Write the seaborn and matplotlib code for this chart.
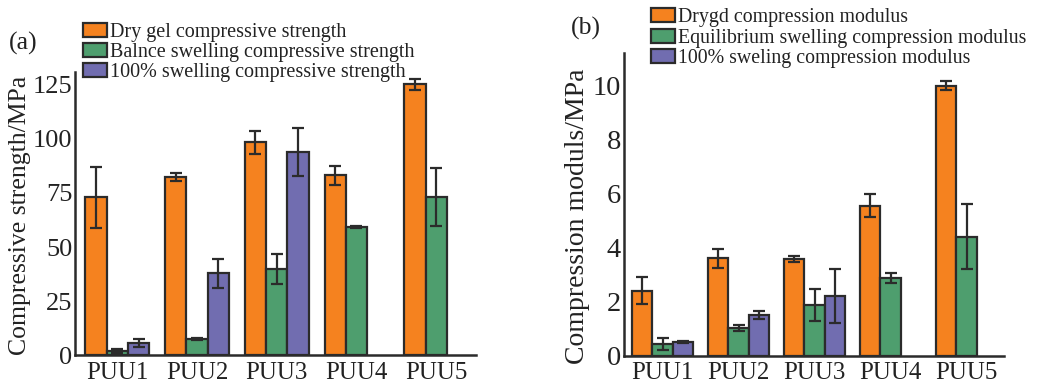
import numpy as np
import pandas as pd
import matplotlib
matplotlib.use("Agg")
import matplotlib.pyplot as plt
from matplotlib.ticker import MultipleLocator, FixedLocator
from matplotlib.patches import Patch
import seaborn as sns

samples = ["PUU1", "PUU2", "PUU3", "PUU4", "PUU5"]

# (a) compressive strength, MPa
strength_labels = ["Dry gel compressive strength",
                   "Balnce swelling compressive strength",
                   "100% swelling compressive strength"]
strength_dry = [73.0, 82.3, 98.5, 83.3, 125.3]
strength_dry_err = [14.0, 1.8, 5.3, 4.4, 2.5]
strength_bal = [1.9, 7.4, 39.8, 59.3, 73.3]
strength_bal_err = [0.8, 0.6, 7.0, 0.6, 13.5]
strength_full = [5.7, 37.8, 94.0, np.nan, np.nan]
strength_full_err = [1.8, 6.7, 10.9, np.nan, np.nan]

# (b) compression modulus, MPa
modulus_labels = ["Drygd compression modulus",
                  "Equilibrium swelling compression modulus",
                  "100% sweling compression modulus"]
modulus_dry = [2.4, 3.6, 3.57, 5.54, 9.98]
modulus_dry_err = [0.5, 0.36, 0.12, 0.43, 0.17]
modulus_eq = [0.42, 1.02, 1.87, 2.87, 4.4]
modulus_eq_err = [0.22, 0.12, 0.6, 0.18, 1.2]
modulus_full = [0.5, 1.5, 2.2, np.nan, np.nan]
modulus_full_err = [0.05, 0.15, 1.0, np.nan, np.nan]

colors = ["#F5821F", "#4E9E6E", "#716DB0"]
edge = "#2b2b2b"
ink = "#222222"

sns.set_theme(style="white")
plt.rcParams["font.family"] = ["Liberation Serif", "DejaVu Serif"]


def build(labels, series):
    rows = []
    for lab, vals in zip(labels, series):
        for s, v in zip(samples, vals):
            rows.append({"sample": s, "group": lab, "value": v})
    return pd.DataFrame(rows)


def draw(ax, labels, series, errs, ysize):
    df = build(labels, series)
    sns.barplot(data=df, x="sample", y="value", hue="group", order=samples,
                hue_order=labels, palette=colors, saturation=1,
                errorbar=None, width=0.8, edgecolor=edge, linewidth=1.6,
                ax=ax, zorder=2)
    for cont, vals, ee in zip(ax.containers, series, errs):
        for patch, v, e in zip(cont.patches, vals, ee):
            if np.isnan(v):
                continue
            xc = patch.get_x() + patch.get_width() / 2
            ax.errorbar(xc, v, yerr=e, fmt="none", ecolor=edge,
                        elinewidth=1.6, capsize=4.5, capthick=1.6, zorder=3)
    for side in ["top", "right"]:
        ax.spines[side].set_visible(False)
    for side in ["left", "bottom"]:
        ax.spines[side].set_color(edge)
        ax.spines[side].set_linewidth(1.8)
    ax.set_xlabel("")
    ax.tick_params(axis="y", which="major", direction="in", length=5,
                   width=1.3, color=edge, labelsize=ysize, pad=2,
                   labelcolor=ink)
    ax.tick_params(axis="y", which="minor", direction="in", length=3,
                   width=1.3, color=edge)
    ax.tick_params(axis="x", which="major", length=0, labelsize=18, pad=5,
                   labelcolor=ink)
    ax.xaxis.set_minor_locator(FixedLocator([0.5, 1.5, 2.5, 3.5]))
    ax.tick_params(axis="x", which="minor", direction="in", length=2,
                   width=1.3, color=edge)
    leg = ax.get_legend()
    if leg is not None:
        leg.remove()


fig = plt.figure(figsize=(10.45, 3.85), dpi=100)
ax1 = fig.add_axes([0.0718, 0.0779, 0.3837, 0.735])
ax2 = fig.add_axes([0.597, 0.0766, 0.3636, 0.786])

draw(ax1, strength_labels, [strength_dry, strength_bal, strength_full],
     [strength_dry_err, strength_bal_err, strength_full_err], 19)
ax1.set_ylim(0, 131)
ax1.set_xlim(-0.53, 4.5)
ax1.yaxis.set_major_locator(MultipleLocator(25))
ax1.yaxis.set_minor_locator(MultipleLocator(12.5))
ax1.set_ylabel("Compressive strength/MPa", fontsize=18.5, color=ink)
ax1.yaxis.set_label_coords(-0.11, 0.495)

draw(ax2, modulus_labels, [modulus_dry, modulus_eq, modulus_full],
     [modulus_dry_err, modulus_eq_err, modulus_full_err], 20.5)
ax2.set_ylim(0, 11.2)
ax2.set_xlim(-0.51, 4.49)
ax2.yaxis.set_major_locator(MultipleLocator(2))
ax2.yaxis.set_minor_locator(MultipleLocator(1))
ax2.set_ylabel("Compression moduls/MPa", fontsize=20, color=ink)
ax2.yaxis.set_label_coords(-0.09, 0.461)


def legend(ax, labels, anchor, size, spacing):
    handles = [Patch(facecolor=c, edgecolor=edge, linewidth=1.6) for c in colors]
    ax.legend(handles, labels, loc="upper left", bbox_to_anchor=anchor,
              bbox_transform=fig.transFigure, frameon=False, fontsize=size,
              handlelength=1.2, handleheight=0.7, handletextpad=0.15,
              labelspacing=spacing, borderaxespad=0, borderpad=0,
              labelcolor=ink)


legend(ax1, strength_labels, (83 / 1045, 1 - 23 / 385), 14.5, 0.05)
legend(ax2, modulus_labels, (651 / 1045, 1 - 8 / 385), 14.3, 0.08)

fig.text(9 / 1045, 1 - 43 / 385, "(a)", fontsize=18.5, va="center",
         ha="left", color=ink)
fig.text(571 / 1045, 1 - 28 / 385, "(b)", fontsize=18.5, va="center",
         ha="left", color=ink)

fig.savefig("out.png", dpi=100)
